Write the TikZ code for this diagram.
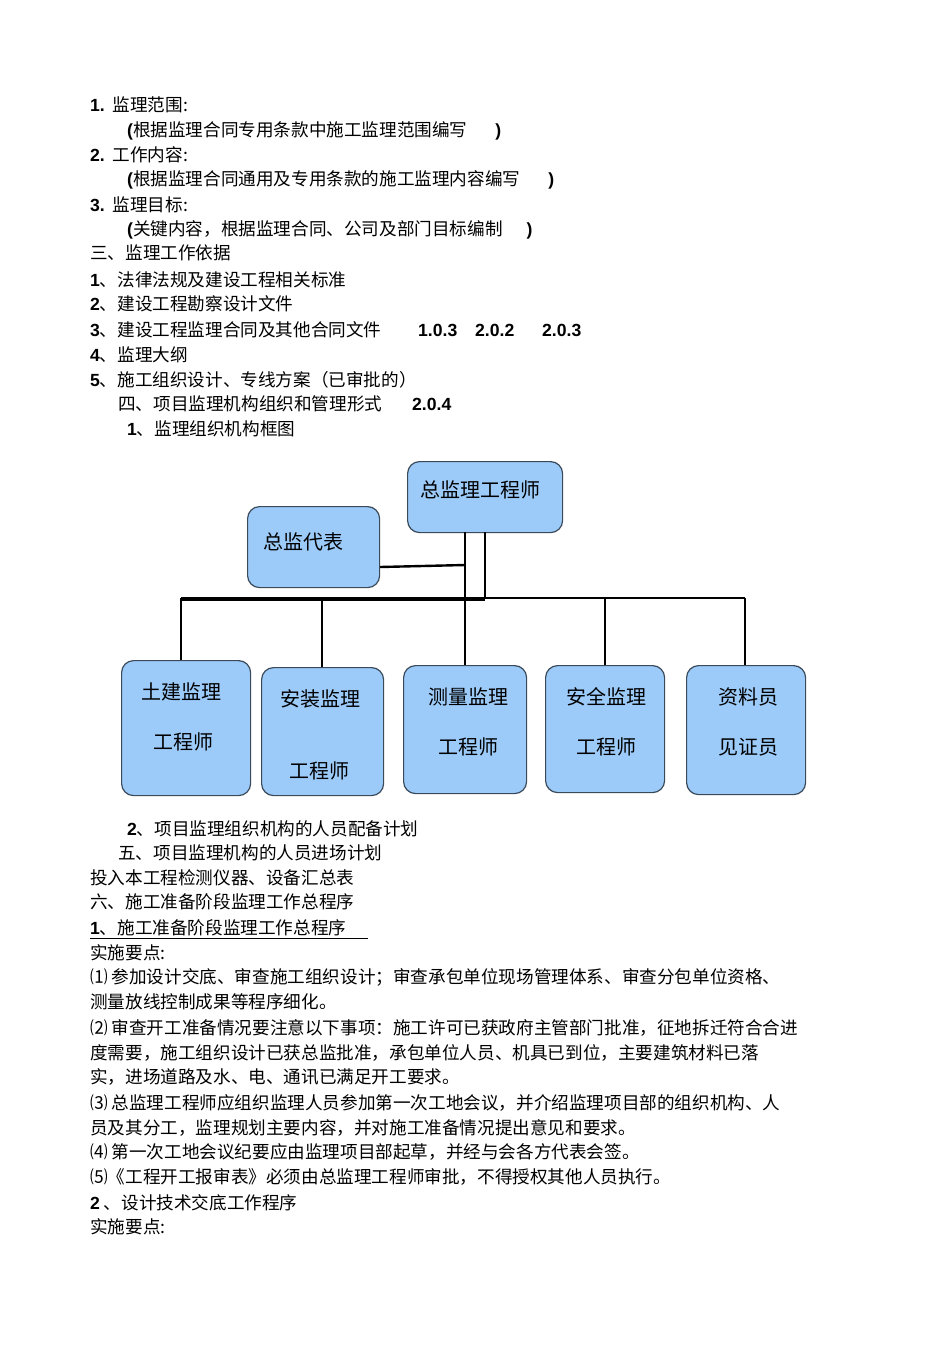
\documentclass[tikz,border=0pt]{standalone}
\usepackage{fontspec}
\setmainfont{Noto Sans CJK SC}
\newfontfamily\latn{Liberation Sans}
\definecolor{boxfill}{HTML}{9CCBFA}
\definecolor{boxline}{HTML}{3A4A5A}
\begin{document}
\begin{tikzpicture}[x=1pt,y=-1pt,
  txt/.style={anchor=west,inner sep=0pt,font=\fontsize{17.6}{20}\selectfont},
  orgbox/.style={draw=boxline,line width=1.2pt,fill=boxfill,rounded corners=12pt,inner sep=0pt,anchor=north west},
  boxlbl/.style={inner sep=0pt,font=\fontsize{20}{23}\selectfont},
  link/.style={line width=2.4pt},
  thick link/.style={line width=3.8pt}]
\useasboundingbox (0,0) rectangle (950,1345);
\newcommand{\B}[1]{{\latn\bfseries #1}}
\node[txt] (t1) at (90,105) {\B{1.}\ \ 监理范围:};
\node[txt] (t2) at (127,131) {\B{(}根据监理合同专用条款中施工监理范围编写\hspace{28pt}\B{)}};
\node[txt] (t3) at (90,155) {\B{2.}\ \ 工作内容:};
\node[txt] (t4) at (127,180) {\B{(}根据监理合同通用及专用条款的施工监理内容编写\hspace{28pt}\B{)}};
\node[txt] (t5) at (90,205) {\B{3.}\ \ 监理目标:};
\node[txt] (t6) at (127,230) {\B{(}关键内容，根据监理合同、公司及部门目标编制\hspace{24pt}\B{)}};
\node[txt] (t7) at (90,253) {三、监理工作依据};
\node[txt] (t8) at (90,280) {\B{1}、法律法规及建设工程相关标准};
\node[txt] (t9) at (90,304) {\B{2}、建设工程勘察设计文件};
\node[txt] (t10) at (90,330) {\B{3}、建设工程监理合同及其他合同文件};
\node[txt] (t10a) at (418,330) {\B{1.0.3}};
\node[txt] (t10b) at (475,330) {\B{2.0.2}};
\node[txt] (t10c) at (542,330) {\B{2.0.3}};
\node[txt] (t11) at (90,355) {\B{4}、监理大纲};
\node[txt] (t12) at (90,380) {\B{5}、施工组织设计、专线方案（已审批的）};
\node[txt] (t13) at (118,404) {四、项目监理机构组织和管理形式};
\node[txt] (t13a) at (412,404) {\B{2.0.4}};
\node[txt] (t14) at (127,429) {\B{1}、监理组织机构框图};

% org chart
\node[orgbox,minimum width=155pt,minimum height=71pt] (chief) at (407,461) {};
\node[boxlbl] at (480,490) {总监理工程师};
\node[orgbox,minimum width=132pt,minimum height=81pt] (deputy) at (247,506) {};
\node[boxlbl] at (303,542) {总监代表};
\node[orgbox,minimum width=129pt,minimum height=135pt] (b1) at (121,660) {};
\node[boxlbl] at (181,692) {土建监理};
\node[boxlbl] at (183,742) {工程师};
\node[orgbox,minimum width=122pt,minimum height=128pt] (b2) at (261,667) {};
\node[boxlbl] at (320,699) {安装监理};
\node[boxlbl] at (319,771) {工程师};
\node[orgbox,minimum width=123pt,minimum height=128pt] (b3) at (403,665) {};
\node[boxlbl] at (468,697) {测量监理};
\node[boxlbl] at (468,747) {工程师};
\node[orgbox,minimum width=119pt,minimum height=127pt] (b4) at (545,665) {};
\node[boxlbl] at (606,697) {安全监理};
\node[boxlbl] at (606,747) {工程师};
\node[orgbox,minimum width=119pt,minimum height=129pt] (b5) at (686,665) {};
\node[boxlbl] at (748,697) {资料员};
\node[boxlbl] at (748,747) {见证员};

\coordinate (va) at (465,532);
\coordinate (vb) at (485,532);
\draw[link] (va) -- (465,598);
\draw[link] (vb) -- (485,598) -- (465,598);
\draw[link] (deputy.east |- 0,567) -- (465,565);
\draw[link] (181,598) -- (745,598);
\draw[thick link] (181,599.5) -- (485,599.5);
\draw[link] (181,598) -- (b1.north -| 181,0);
\draw[link] (322,598) -- (b2.north -| 322,0);
\draw[link] (465,598) -- (b3.north -| 465,0);
\draw[link] (605,598) -- (b4.north -| 605,0);
\draw[link] (745,598) -- (b5.north -| 745,0);

\node[txt] (t15) at (127,829) {\B{2}、项目监理组织机构的人员配备计划};
\node[txt] (t16) at (118,853) {五、项目监理机构的人员进场计划};
\node[txt] (t17) at (90,878) {投入本工程检测仪器、设备汇总表};
\node[txt] (t18) at (90,902) {六、施工准备阶段监理工作总程序};
\node[txt] (t19) at (90,928) {\B{1}、施工准备阶段监理工作总程序};
\draw[line width=0.6pt] (90,938) -- (368,938);
\node[txt] (t20) at (90,953) {实施要点:};
\node[txt] (t21) at (90,977) {⑴\ 参加设计交底、审查施工组织设计；审查承包单位现场管理体系、审查分包单位资格、};
\node[txt] (t22) at (90,1002) {测量放线控制成果等程序细化。};
\node[txt] (t23) at (90,1028) {⑵\ 审查开工准备情况要注意以下事项：施工许可已获政府主管部门批准，征地拆迁符合合进};
\node[txt] (t24) at (90,1053) {度需要，施工组织设计已获总监批准，承包单位人员、机具已到位，主要建筑材料已落};
\node[txt] (t25) at (90,1077) {实，进场道路及水、电、通讯已满足开工要求。};
\node[txt] (t26) at (90,1103) {⑶\ 总监理工程师应组织监理人员参加第一次工地会议，并介绍监理项目部的组织机构、人};
\node[txt] (t27) at (90,1128) {员及其分工，监理规划主要内容，并对施工准备情况提出意见和要求。};
\node[txt] (t28) at (90,1152) {⑷\ 第一次工地会议纪要应由监理项目部起草，并经与会各方代表会签。};
\node[txt] (t29) at (90,1177) {⑸《工程开工报审表》必须由总监理工程师审批，不得授权其他人员执行。};
\node[txt] (t30) at (90,1203) {\B{2}\ 、设计技术交底工作程序};
\node[txt] (t31) at (90,1227) {实施要点:};
\end{tikzpicture}
\end{document}
